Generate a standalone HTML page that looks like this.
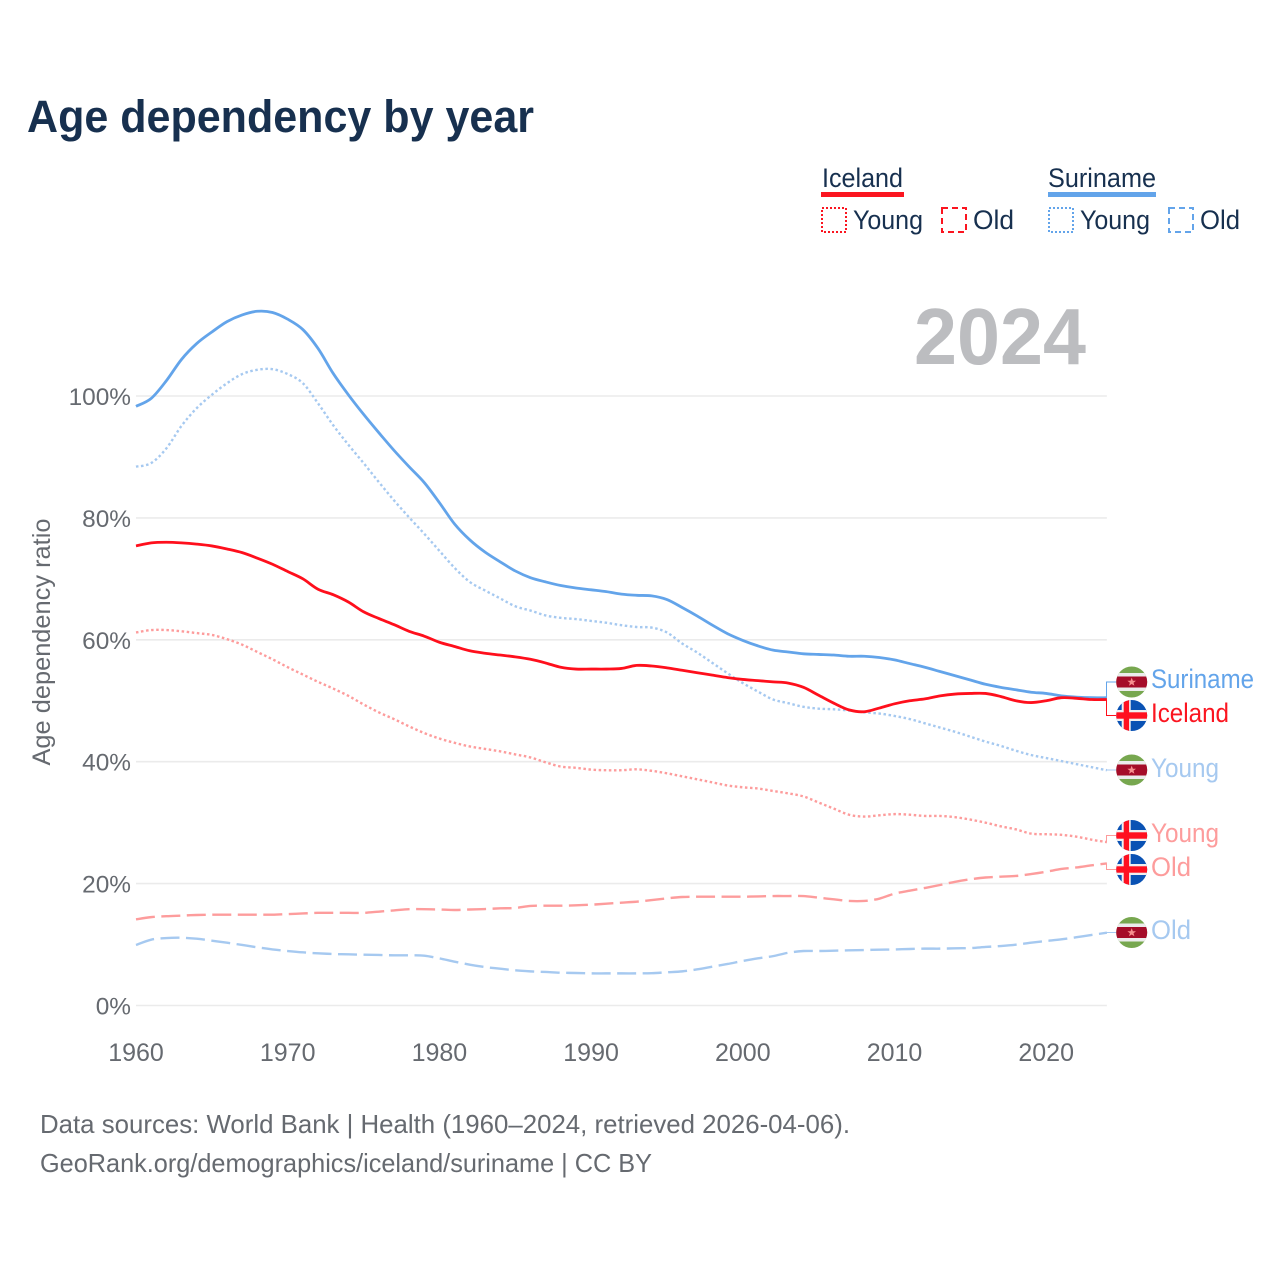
<!DOCTYPE html>
<html lang="en">
<head>
<meta charset="utf-8">
<title>Age dependency by year</title>
<style>
html,body{margin:0;padding:0;background:#fff;}
svg{display:block;font-family:"Liberation Sans",sans-serif;}
</style>
</head>
<body>
<svg id="chart" xmlns="http://www.w3.org/2000/svg" width="1280" height="1280" viewBox="0 0 1280 1280">
  <defs>
    <clipPath id="flag-clip"><circle cx="0" cy="0" r="15.5"/></clipPath>
    <g id="flag-suriname" clip-path="url(#flag-clip)">
      <rect x="-16" y="-16" width="32" height="32" fill="#77a74f"/>
      <rect x="-16" y="-9" width="32" height="18" fill="#ececec"/>
      <rect x="-16" y="-5.5" width="32" height="11" fill="#a50d29"/>
      <polygon points="0,-4.4 1.2,-1.3 4.3,-1.3 1.8,0.7 2.7,3.8 0,2 -2.7,3.8 -1.8,0.7 -4.3,-1.3 -1.2,-1.3" fill="#f78f8f"/>
    </g>
    <g id="flag-iceland" clip-path="url(#flag-clip)">
      <rect x="-16" y="-16" width="32" height="32" fill="#0a52b4"/>
      <rect x="-10" y="-16" width="9" height="32" fill="#f0f0f0"/>
      <rect x="-16" y="-5.5" width="32" height="11" fill="#f0f0f0"/>
      <rect x="-8" y="-16" width="5.4" height="32" fill="#ff1020"/>
      <rect x="-16" y="-3.2" width="32" height="6.4" fill="#ff1020"/>
    </g>
  </defs>

  <text x="27" y="132" font-size="45" font-weight="700" fill="#17304f" textLength="507" lengthAdjust="spacingAndGlyphs">Age dependency by year</text>

  <g font-size="27" fill="#17304f">
    <text x="822" y="187" textLength="81" lengthAdjust="spacingAndGlyphs">Iceland</text>
    <rect x="821" y="192" width="83" height="5" fill="#fb1520"/>
    <rect x="822" y="208" width="24" height="24" fill="none" stroke="#fb1520" stroke-width="2" stroke-dasharray="2 2"/>
    <text x="853" y="229" textLength="70" lengthAdjust="spacingAndGlyphs">Young</text>
    <rect x="942" y="208" width="24" height="24" fill="none" stroke="#fb1520" stroke-width="2" stroke-dasharray="6 4"/>
    <text x="973" y="229" textLength="41" lengthAdjust="spacingAndGlyphs">Old</text>
    <text x="1048" y="187" textLength="108" lengthAdjust="spacingAndGlyphs">Suriname</text>
    <rect x="1048" y="192" width="108" height="5" fill="#63a4ea"/>
    <rect x="1049" y="208" width="24" height="24" fill="none" stroke="#63a4ea" stroke-width="2" stroke-dasharray="2 2"/>
    <text x="1080" y="229" textLength="70" lengthAdjust="spacingAndGlyphs">Young</text>
    <rect x="1169" y="208" width="24" height="24" fill="none" stroke="#63a4ea" stroke-width="2" stroke-dasharray="6 4"/>
    <text x="1200" y="229" textLength="40" lengthAdjust="spacingAndGlyphs">Old</text>
  </g>

  <g id="grid"></g>
  <g id="yticks"></g>
  <g id="xticks"></g>
  <text transform="translate(50,642) rotate(-90)" text-anchor="middle" font-size="25" fill="#666a70" textLength="247" lengthAdjust="spacingAndGlyphs">Age dependency ratio</text>

  <text x="914" y="364" font-size="80" font-weight="700" fill="#bcbdc0" textLength="172" lengthAdjust="spacingAndGlyphs">2024</text>

  <g id="series"></g>
  <g id="connectors"></g>

  <use href="#flag-suriname" x="1131.7" y="682"/>
  <use href="#flag-iceland" x="1131.7" y="715.5"/>
  <use href="#flag-suriname" x="1131.7" y="770"/>
  <use href="#flag-iceland" x="1131.7" y="835.5"/>
  <use href="#flag-iceland" x="1131.7" y="869.5"/>
  <use href="#flag-suriname" x="1131.7" y="932.5"/>

  <g font-size="27">
    <text x="1151" y="688" fill="#63a4ea" textLength="103" lengthAdjust="spacingAndGlyphs">Suriname</text>
    <text x="1151" y="722" fill="#fb1520" textLength="78" lengthAdjust="spacingAndGlyphs">Iceland</text>
    <text x="1151" y="777" fill="#a6c9f0" textLength="68" lengthAdjust="spacingAndGlyphs">Young</text>
    <text x="1151" y="842" fill="#fd9c9c" textLength="68" lengthAdjust="spacingAndGlyphs">Young</text>
    <text x="1151" y="876" fill="#fd9c9c" textLength="40" lengthAdjust="spacingAndGlyphs">Old</text>
    <text x="1151" y="939" fill="#a6c9f0" textLength="40" lengthAdjust="spacingAndGlyphs">Old</text>
  </g>

  <g font-size="26" fill="#666a70">
    <text x="40" y="1133" textLength="810" lengthAdjust="spacingAndGlyphs">Data sources: World Bank | Health (1960–2024, retrieved 2026-04-06).</text>
    <text x="40" y="1172" textLength="612" lengthAdjust="spacingAndGlyphs">GeoRank.org/demographics/iceland/suriname | CC BY</text>
  </g>

<script>
const firstYear = 1960;
const lastYear = 2024;
const xTickYears = [1960, 1970, 1980, 1990, 2000, 2010, 2020];
const yTickValues = [0, 20, 40, 60, 80, 100];

const surinameTotal = [98.3,99.6,102.5,106,108.6,110.5,112.2,113.3,113.9,113.7,112.6,110.9,107.8,103.7,100.2,97.0,94.0,91.1,88.4,85.8,
  82.5,79.0,76.4,74.4,72.8,71.3,70.2,69.5,68.9,68.5,68.2,67.9,67.5,67.3,67.2,66.6,65.3,63.9,62.4,61.0,59.9,59.0,
  58.3,58.0,57.7,57.6,57.5,57.3,57.3,57.1,56.7,56.1,55.5,54.8,54.1,53.4,52.7,52.2,51.8,51.4,51.2,50.8,50.6,50.5,50.5];
const surinameYoung = [88.4,89,91.4,95.1,98,100.2,102.1,103.6,104.3,104.4,103.6,102.1,98.8,95.2,92.0,89.0,85.9,82.9,80.1,77.4,
  74.6,71.8,69.5,68.1,66.8,65.5,64.8,64.0,63.6,63.4,63.1,62.8,62.4,62.1,62.0,61.2,59.4,57.9,56.2,54.5,52.9,51.5,
  50.2,49.6,49.0,48.7,48.6,48.4,48.1,47.9,47.5,47.0,46.3,45.6,44.9,44.1,43.3,42.6,41.8,41.1,40.6,40.1,39.6,39.1,38.6];
const surinameOld = [9.93,10.8,11.07,11.12,10.96,10.64,10.3,9.93,9.54,9.2,8.94,8.72,8.56,8.45,8.39,8.34,8.29,8.23,8.23,8.18,
  7.73,7.19,6.7,6.31,6.04,5.77,5.6,5.5,5.38,5.33,5.27,5.27,5.27,5.27,5.3,5.45,
  5.6,5.93,6.37,6.81,7.3,7.74,8.1,8.66,8.94,8.94,8.99,9.05,9.1,9.16,9.2,9.27,9.33,9.33,9.38,9.43,9.6,9.76,9.98,10.3,10.58,10.85,11.2,11.57,11.95];
const icelandTotal = [75.4,75.9,76.0,75.9,75.7,75.4,74.9,74.3,73.4,72.4,71.2,70.0,68.3,67.4,66.2,64.6,63.5,62.5,61.4,60.6,
  59.6,58.9,58.2,57.8,57.5,57.2,56.8,56.2,55.5,55.2,55.2,55.2,55.3,55.8,55.7,55.4,55.0,54.6,54.2,53.8,53.5,53.3,
  53.1,52.9,52.2,50.9,49.6,48.5,48.2,48.8,49.5,50.0,50.3,50.8,51.1,51.2,51.2,50.7,50.0,49.7,50.0,50.5,50.4,50.2,50.2];
const icelandYoung = [61.2,61.6,61.6,61.4,61.1,60.8,60.1,59.2,58.0,56.8,55.5,54.3,53.1,52.0,50.8,49.4,48.1,47.0,45.8,44.7,
  43.8,43.1,42.5,42.1,41.7,41.2,40.7,39.9,39.2,39.0,38.7,38.6,38.6,38.75,38.5,38.1,37.6,37.1,36.6,36.1,35.8,35.6,
  35.2,34.8,34.3,33.3,32.3,31.3,31.0,31.2,31.4,31.3,31.1,31.1,30.9,30.5,30.0,29.4,28.9,28.2,28.1,28.0,27.7,27.2,26.8];
const icelandOld = [14.14,14.5,14.65,14.75,14.85,14.9,14.9,14.9,14.9,14.9,15.0,15.1,15.2,15.2,15.2,15.2,15.4,15.6,15.8,15.8,
  15.75,15.67,15.75,15.83,15.94,16.0,16.33,16.38,16.38,16.43,16.54,16.7,
  16.87,17.03,17.3,17.58,17.8,17.85,17.85,17.85,17.85,17.9,17.96,17.96,17.96,17.69,17.42,17.15,17.15,17.53,18.35,18.84,19.28,19.77,20.3,20.7,21.0,21.14,21.25,21.57,21.95,22.4,22.66,23.0,23.3];

const NS = 'http://www.w3.org/2000/svg';
const xScale = function (year) { return 136 + (year - firstYear) * 15.17; };
const yScale = function (pct) { return 1005.5 - pct * 6.095; };

const gridGroup = document.getElementById('grid');
const yTickGroup = document.getElementById('yticks');
yTickValues.forEach(function (v) {
  const line = document.createElementNS(NS, 'line');
  
  
  line.setAttribute('x1', xScale(firstYear));
  line.setAttribute('x2', xScale(lastYear));
  line.setAttribute('y1', yScale(v));
  line.setAttribute('y2', yScale(v));
  line.setAttribute('stroke', '#ebebeb');
  line.setAttribute('stroke-width', '1.6');
  gridGroup.appendChild(line);

  const label = document.createElementNS(NS, 'text');
  
  
  label.setAttribute('x', 131);
  label.setAttribute('y', yScale(v) + 9);
  label.setAttribute('text-anchor', 'end');
  label.setAttribute('font-size', '24.4');
  label.setAttribute('fill', '#666a70');
  label.textContent = v + '%';
  yTickGroup.appendChild(label);
});

const xTickGroup = document.getElementById('xticks');
xTickYears.forEach(function (year) {
  const label = document.createElementNS(NS, 'text');
  
  
  label.setAttribute('x', xScale(year));
  label.setAttribute('y', 1061);
  label.setAttribute('text-anchor', 'middle');
  label.setAttribute('font-size', '25');
  label.setAttribute('fill', '#666a70');
  label.textContent = year;
  xTickGroup.appendChild(label);
});

const seriesGroup = document.getElementById('series');
const connectorGroup = document.getElementById('connectors');

function smoothPath(values) {
  const pts = values.map(function (v, i) {
    return [xScale(firstYear + i), yScale(v)];
  });
  let d = 'M' + pts[0][0].toFixed(2) + ' ' + pts[0][1].toFixed(2);
  for (let i = 0; i < pts.length - 1; i++) {
    const p0 = pts[Math.max(0, i - 1)];
    const p1 = pts[i];
    const p2 = pts[i + 1];
    const p3 = pts[Math.min(pts.length - 1, i + 2)];
    const c1x = p1[0] + (p2[0] - p0[0]) / 6;
    const c1y = p1[1] + (p2[1] - p0[1]) / 6;
    const c2x = p2[0] - (p3[0] - p1[0]) / 6;
    const c2y = p2[1] - (p3[1] - p1[1]) / 6;
    d += ' C' + c1x.toFixed(2) + ' ' + c1y.toFixed(2) + ' ' + c2x.toFixed(2) + ' ' + c2y.toFixed(2) + ' ' + p2[0].toFixed(2) + ' ' + p2[1].toFixed(2);
  }
  return d;
}

function drawSeries(name, values, color, width, dash, labelY) {
  const path = document.createElementNS(NS, 'path');
  
  
  path.setAttribute('d', smoothPath(values));
  path.setAttribute('fill', 'none');
  path.setAttribute('stroke', color);
  path.setAttribute('stroke-width', width);
  path.setAttribute('stroke-linejoin', 'round');
  if (dash) path.setAttribute('stroke-dasharray', dash);
  seriesGroup.appendChild(path);

  const endX = 1106.5;
  const endY = yScale(values[values.length - 1]);
  const link = document.createElementNS(NS, 'path');
  
  
  link.setAttribute('d', 'M' + endX + ' ' + endY.toFixed(1) + ' L' + endX + ' ' + labelY + ' L1116 ' + labelY);
  link.setAttribute('fill', 'none');
  link.setAttribute('stroke', color);
  link.setAttribute('stroke-width', '1');
  connectorGroup.appendChild(link);
}

drawSeries('suriname-old', surinameOld, '#a6c9f0', 2.4, '19 6.5', 932.5);
drawSeries('iceland-old', icelandOld, '#fd9c9c', 2.4, '19 6.5', 869.5);
drawSeries('suriname-young', surinameYoung, '#a6c9f0', 2.4, '2.5 2.6', 770);
drawSeries('iceland-young', icelandYoung, '#fd9c9c', 2.4, '2.5 2.6', 835.5);
drawSeries('suriname-total', surinameTotal, '#63a4ea', 2.8, '', 682);
drawSeries('iceland-total', icelandTotal, '#ff0f1c', 2.8, '', 715.5);
</script>
</svg>
</body>
</html>
